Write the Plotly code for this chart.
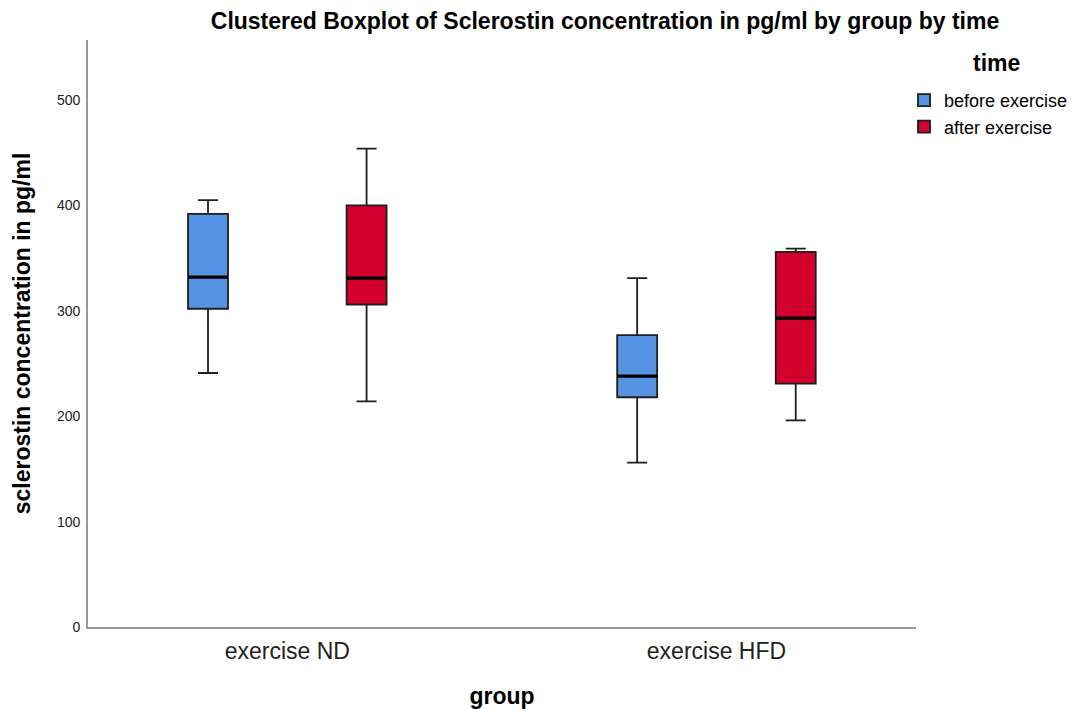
import plotly.graph_objects as go

groups = ["exercise ND", "exercise HFD"]
series_names = ["before exercise", "after exercise"]
colors = ["#5694E3", "#D3002E"]

# five-number summaries (pg/ml)
before_lower = [241, 156]
before_q1 = [302, 218]
before_median = [332, 238]
before_q3 = [392, 277]
before_upper = [405, 331]

after_lower = [214, 196]
after_q1 = [306, 231]
after_median = [331, 293]
after_q3 = [400, 356]
after_upper = [454, 359]

y_ticks = [0, 100, 200, 300, 400, 500]

stats = [
    (before_lower, before_q1, before_median, before_q3, before_upper),
    (after_lower, after_q1, after_median, after_q3, after_upper),
]

fig = go.Figure()
for name, color, (lo, q1, med, q3, hi) in zip(series_names, colors, stats):
    og = name
    fig.add_trace(go.Box(
        name=name, x=groups, q1=q1, median=med, q3=q3,
        lowerfence=lo, upperfence=hi,
        fillcolor=color, line=dict(color="#1e1e1e", width=1.8),
        whiskerwidth=0.5, offsetgroup=og, legendgroup=og,
        hoverinfo="skip",
    ))
    # thick median line overlay
    fig.add_trace(go.Box(
        name=name, x=groups, q1=med, median=med, q3=med,
        lowerfence=med, upperfence=med,
        fillcolor="rgba(0,0,0,0)", line=dict(color="#000000", width=3.2),
        whiskerwidth=0, offsetgroup=og, legendgroup=og,
        showlegend=False, hoverinfo="skip",
    ))

font_family = "Liberation Sans, Arial, sans-serif"
fig.update_layout(
    width=1075, height=709,
    margin=dict(l=88, r=159, t=40, b=82, autoexpand=False),
    paper_bgcolor="white", plot_bgcolor="white",
    boxmode="group", boxgap=0.261, boxgroupgap=0.748,
    font=dict(family=font_family, color="#000000"),
    title=dict(
        text="<b>Clustered Boxplot of Sclerostin concentration in pg/ml by group by time</b>",
        x=605 / 1075, xref="container", xanchor="center",
        y=1 - 21 / 709, yref="container", yanchor="middle",
        font=dict(size=23, family=font_family, color="#000000"),
    ),
    annotations=[dict(
        text="<b>time</b>", xref="paper", yref="paper",
        x=(996 - 88) / 828, y=(627 - 63) / 587,
        xanchor="center", yanchor="middle", showarrow=False,
        font=dict(size=23, family=font_family, color="#000000"),
    )],
    legend=dict(
        x=(904 - 88) / 828, xanchor="left", y=(627 - 82) / 587, yanchor="top",
        font=dict(size=18, family=font_family, color="#000000"),
        bgcolor="rgba(0,0,0,0)", tracegroupgap=0,
    ),
    xaxis=dict(
        type="category", range=[-0.4644, 1.465],
        showline=True, linecolor="#999999", linewidth=1.8,
        showgrid=False, zeroline=False, ticks="",
        ticklabelstandoff=2,
        tickfont=dict(size=23, family=font_family, color="#222222"),
        title=dict(text="<b>group</b>", standoff=26,
                   font=dict(size=23, family=font_family)),
    ),
    yaxis=dict(
        range=[0, 557], tickvals=y_ticks,
        showline=True, linecolor="#999999", linewidth=1.8,
        showgrid=False, zeroline=False, ticks="",
        ticklabelstandoff=3,
        tickfont=dict(size=14, family=font_family, color="#222222"),
        title=dict(text="<b>sclerostin concentration in pg/ml</b>", standoff=20,
                   font=dict(size=23, family=font_family)),
    ),
)

fig.write_html("out.html")
